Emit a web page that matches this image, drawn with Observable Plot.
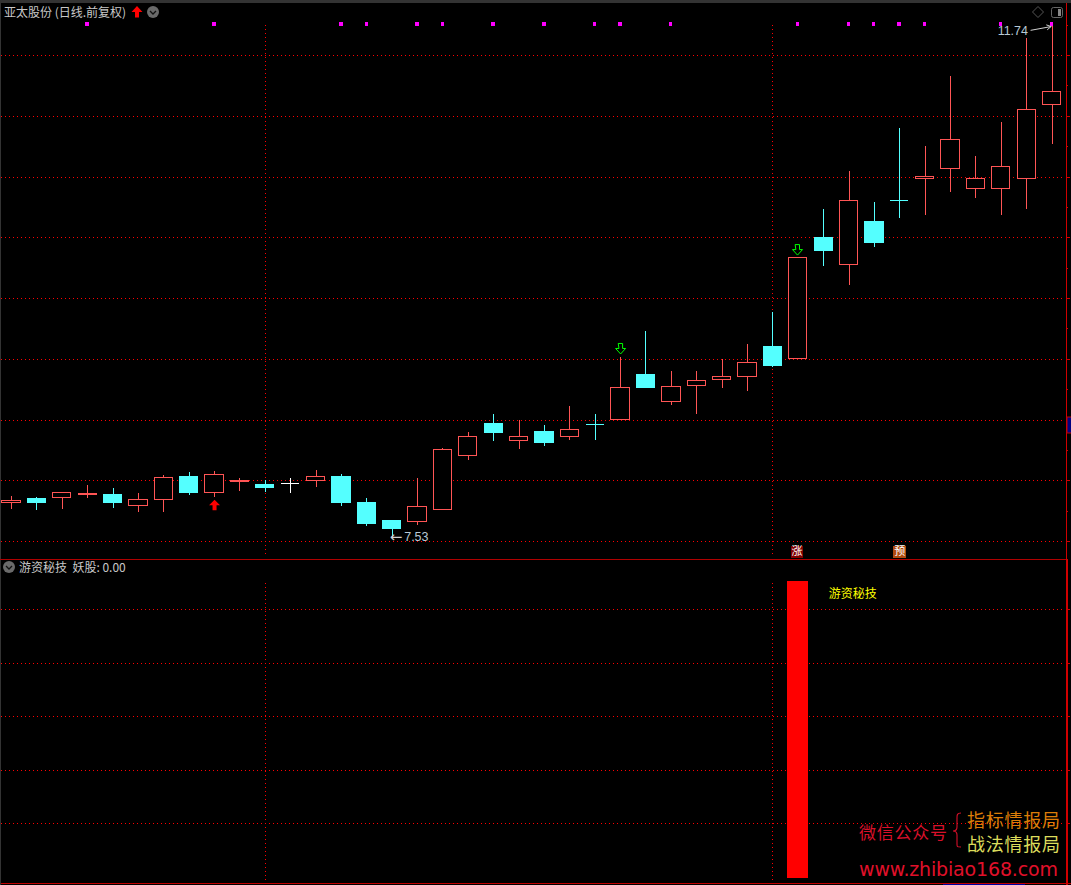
<!DOCTYPE html>
<html><head><meta charset="utf-8">
<script src="https://cdn.jsdelivr.net/npm/d3@7"></script>
<script src="https://cdn.jsdelivr.net/npm/@observablehq/plot@0.6"></script>
<style>
html,body{margin:0;padding:0;background:#000;overflow:hidden}
#wrap{position:relative;width:1071px;height:885px;background:#000;overflow:hidden;font-family:"Noto Sans CJK SC","Noto Sans",sans-serif}
#pricePanel,#indicatorPanel{position:absolute;left:0}
#pricePanel{top:0}#indicatorPanel{top:559px}
.hd{position:absolute;font-size:12px;line-height:14px;color:#c8c8c8;white-space:pre}
#over{position:absolute;left:0;top:0;pointer-events:none}
</style></head><body>
<div id="wrap">
<div id="pricePanel"></div><div id="indicatorPanel"></div>
<svg id="over" width="1071" height="885"></svg>
<div class="hd" style="left:4px;top:5px">亚太股份 (日线.前复权)</div>
<div class="hd" style="left:19px;top:560px">游资秘技  妖股: 0.00</div>
</div>
<script>
const opens=[7.815,7.846,7.856,7.881,7.887,7.791,7.840,8.035,7.898,7.986,7.969,7.977,7.996,8.035,7.821,7.665,7.659,7.758,8.202,8.471,8.325,8.405,8.358,8.460,8.498,8.874,8.646,8.778,8.827,8.852,9.105,9.006,10.002,9.774,10.134,10.304,10.487,10.564,10.399,10.399,10.482,11.091];
const closes=[7.835,7.821,7.901,7.895,7.813,7.843,8.024,7.903,8.049,8.002,7.944,7.977,8.027,7.821,7.648,7.599,7.786,8.255,8.362,8.397,8.362,8.315,8.419,8.460,8.765,8.767,8.773,8.823,8.855,8.971,8.948,9.837,9.895,10.304,9.953,10.304,10.504,10.806,10.485,10.584,11.053,11.201];
const highs=[7.870,7.862,7.901,7.958,7.936,7.895,8.043,8.068,8.076,8.021,8.002,8.018,8.084,8.051,7.854,7.673,8.018,8.263,8.397,8.545,8.496,8.455,8.611,8.545,9.014,9.228,8.899,8.899,8.998,9.121,9.385,9.837,10.232,10.545,10.290,10.899,10.751,11.327,10.669,10.948,11.640,11.74];
const lows=[7.763,7.755,7.763,7.854,7.772,7.739,7.739,7.879,7.862,7.912,7.903,7.895,7.944,7.788,7.623,7.53,7.632,7.755,8.167,8.323,8.257,8.282,8.331,8.331,8.496,8.759,8.619,8.545,8.759,8.735,8.932,9.006,9.763,9.607,9.920,10.158,10.183,10.372,10.323,10.183,10.232,10.767];
const dojiColors={11:"#ffffff",23:"#54ffff",35:"#54ffff"};
const priceGrid=[7.5,8,8.5,9,9.5,10,10.5,11,11.5];
const priceMinor=[7.75,8.25,8.75,9.25,9.75,10.25,10.75,11.25,11.75];
const timeGrid=[10,30];
const signalDots=[3,8,13,14,16,17,19,21,23,24,26,31,33,34,35,36,39,41];
const signalDotPrice=11.76;
const redArrows=[{i:8,p:7.843}];
const greenArrows=[{i:24,p:9.13},{i:30.97,p:9.944}];
const tags=[{i:30.95,t:"涨",c:"#800000"},{i:35,t:"预",c:"#b04a10"}];
const tagPrice=7.414;
const lowMark={i:15,p:7.53};
const highMark={i:41,p:11.74,from:40.17,fromP:11.708};
const indicatorBars=[{i:31,v:100}];
const indicatorGrid=[18.5,36.4,54.5,72.4,90.6];
const indicatorMinor=[9.2,27.4,45.5,63.4,81.5];
const indicatorLabel="游资秘技";

const RED="#ff5555",CYAN="#54ffff",GRID="#ff0000",AXIS="#d00000";
const W=1071,xDomain=[-0.4334,41.766],axisI=41.57,tickEnd=41.73,tickMid=41.65,leftI=-0.39,rightI=41.5;
const candles=d3.range(opens.length).map(i=>({i,o:opens[i],c:closes[i],h:highs[i],l:lows[i],
  color:dojiColors[i]||(closes[i]>=opens[i]?RED:CYAN),up:closes[i]>opens[i],doji:closes[i]===opens[i]}));
const crisp={shapeRendering:"crispEdges"};
const hw=0.36;
const arrowUp={draw(c){c.moveTo(0,0);c.lineTo(5.5,5.5);c.lineTo(2,5.5);c.lineTo(2,10.5);c.lineTo(-2,10.5);c.lineTo(-2,5.5);c.lineTo(-5.5,5.5);c.closePath();}};
const arrowDown={draw(c){c.moveTo(-2,0);c.lineTo(2,0);c.lineTo(2,5);c.lineTo(5,5);c.lineTo(0,10.5);c.lineTo(-5,5);c.lineTo(-2,5);c.closePath();}};

const priceChart=Plot.plot({width:W,height:559,margin:0,
  x:{domain:xDomain,range:[0,W],axis:null},
  y:{domain:[7.352,11.953],axis:null},
  color:{type:"identity"},
  style:{background:"#000",display:"block"},
  marks:[
    Plot.ruleY(priceGrid,{x1:leftI,x2:rightI,stroke:GRID,strokeDasharray:"1,3",...crisp}),
    Plot.ruleX(timeGrid,{y1:7.39,y2:11.76,stroke:GRID,strokeDasharray:"1,3",...crisp}),
    Plot.ruleX([axisI],{y1:7.352,y2:11.93,stroke:AXIS,strokeWidth:1,...crisp}),
    Plot.ruleY(priceGrid,{x1:axisI,x2:tickEnd,stroke:AXIS,...crisp}),
    Plot.ruleY(priceMinor,{x1:axisI,x2:tickMid,stroke:AXIS,...crisp}),
    Plot.ruleX(candles,{x:"i",y1:"l",y2:"h",stroke:"color",...crisp}),
    Plot.rect(candles.filter(d=>!d.doji),{x1:d=>d.i-hw,x2:d=>d.i+hw,y1:"o",y2:"c",
      fill:d=>d.up?"#000000":d.color,stroke:"color",...crisp}),
    Plot.ruleY(candles.filter(d=>d.doji),{x1:d=>d.i-hw,x2:d=>d.i+hw,y:"c",stroke:"color",...crisp}),
    Plot.dot(signalDots,{x:d=>d,y:signalDotPrice,dx:-0.6,symbol:"square",r:1.9,fill:"#ff00ff",...crisp}),
    Plot.vector(redArrows,{x:"i",y:"p",anchor:"start",length:10,shape:arrowUp,fill:"#ff0000",stroke:"none"}),
    Plot.vector(greenArrows,{x:"i",y:"p",anchor:"start",length:10,shape:arrowDown,fill:"none",stroke:"#00ff00",strokeWidth:1}),
    Plot.dot(tags,{x:"i",y:tagPrice,symbol:"square",r:7.2,fill:"c",...crisp}),
    Plot.text(tags,{x:"i",y:tagPrice,text:"t",fill:"#fff",fontSize:11,fontFamily:"Noto Sans CJK SC"}),
    Plot.text([lowMark],{x:"i",y:"p",text:()=>"←",textAnchor:"start",dx:-2.5,dy:-1,fill:"#d0d0d0",fontSize:15,fontFamily:"DejaVu Sans"}),
    Plot.text([lowMark],{x:"i",y:"p",text:d=>d.p.toFixed(2),textAnchor:"start",dx:12,dy:-1,fill:"#b8c8d4",fontSize:12.5,fontFamily:"Liberation Sans"}),
    Plot.arrow([highMark],{x1:"from",y1:"fromP",x2:"i",y2:"p",bend:false,stroke:"#d0d0d0",strokeWidth:1,headLength:7,insetEnd:1}),
    Plot.text([highMark],{x:"from",y:"fromP",text:d=>d.p.toFixed(2),textAnchor:"end",dx:-3,dy:1,fill:"#b8c8d4",fontSize:12.5,fontFamily:"Liberation Sans"})
  ]});
document.getElementById("pricePanel").append(priceChart);

const indicatorChart=Plot.plot({width:W,height:326,margin:0,
  x:{domain:xDomain,range:[0,W],axis:null},
  y:{domain:[-2.36,107.4],axis:null},
  style:{background:"#000",display:"block"},
  marks:[
    Plot.ruleY(indicatorGrid,{x1:leftI,x2:rightI,stroke:GRID,strokeDasharray:"1,3",...crisp}),
    Plot.ruleX(timeGrid,{y1:-2,y2:100,stroke:GRID,strokeDasharray:"1,3",...crisp}),
    Plot.ruleX([axisI],{y1:-2.36,y2:107.4,stroke:AXIS,strokeWidth:2,...crisp}),
    Plot.ruleY(indicatorGrid,{x1:axisI,x2:tickEnd,stroke:AXIS,...crisp}),
    Plot.ruleY(indicatorMinor,{x1:axisI,x2:tickMid,stroke:AXIS,...crisp}),
    Plot.rectY(indicatorBars,{x1:d=>d.i-0.41,x2:d=>d.i+0.41,y1:0,y2:"v",fill:"#ff0000",...crisp}),
    Plot.text(indicatorBars,{x:d=>d.i+1.2,y:d=>d.v-4.2,text:()=>indicatorLabel,textAnchor:"start",fill:"#ffff00",fontSize:12,fontFamily:"Noto Sans CJK SC"})
  ]});
document.getElementById("indicatorPanel").append(indicatorChart);

// window chrome, icons and watermark
const o=d3.select("#over");
o.append("rect").attr("x",0).attr("y",0).attr("width",1071).attr("height",3).attr("fill","#333");
o.append("rect").attr("x",0).attr("y",0).attr("width",1).attr("height",885).attr("fill","#333");
o.append("rect").attr("x",0).attr("y",559).attr("width",1066).attr("height",1).attr("fill","#b00000");
o.append("rect").attr("x",1).attr("y",883).attr("width",1070).attr("height",1).attr("fill","#c00000");
o.append("rect").attr("x",943).attr("y",884).attr("width",82).attr("height",1).attr("fill","#0000a0");
o.append("rect").attr("x",1067).attr("y",417).attr("width",6).attr("height",16).attr("fill","#000080").attr("stroke","#c00000");
o.append("path").attr("d","M137 6l5.5 6h-3.5v5.5h-4V12h-3.5z").attr("fill","#ff0000");
for(const [x,y] of [[153,12],[9,567]]){
  o.append("circle").attr("cx",x).attr("cy",y).attr("r",6).attr("fill","#6a6a6a");
  o.append("path").attr("d",`M${x-3} ${y-1}l3 3l3-3`).attr("fill","none").attr("stroke","#111").attr("stroke-width",1.3);
}
o.append("path").attr("d","M1038 6.5l5.5 5.5l-5.5 5.5l-5.5-5.5z").attr("fill","none").attr("stroke","#555");
o.append("rect").attr("x",1051.5).attr("y",7.5).attr("width",11).attr("height",10).attr("rx",2).attr("fill","none").attr("stroke","#666");
o.append("rect").attr("x",1058).attr("y",9).attr("width",3).attr("height",7).attr("fill","#888");
const wm=(t,x,y,size,fill,len,font)=>o.append("text").attr("x",x).attr("y",y).attr("font-size",size).attr("fill",fill)
  .attr("font-family",font||"Noto Sans CJK SC").attr("textLength",len).attr("lengthAdjust","spacing").attr("dominant-baseline","central").text(t);
wm("微信公众号",859,831,17,"#d8102a",88);
wm("指标情报局",967,819,18,"#dd7d08",93);
wm("战法情报局",967,843,18,"#dcdc5c",93);
wm("www.zhibiao168.com",859,869,19,"#e0102a",199,"DejaVu Sans");
o.append("path").attr("d","M961 813c-4 0-4 2-4 5v9c0 3-1 4-4 4c3 0 4 1 4 4v9c0 3 0 3 4 3").attr("fill","none").attr("stroke","#d8102a").attr("stroke-width",1.1);
</script>
</body></html>
